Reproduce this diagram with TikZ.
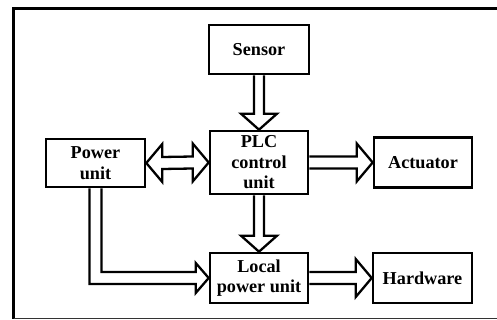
\documentclass[tikz,border=0pt]{standalone}
\usepackage{fontspec}
\setmainfont{Liberation Serif}
\usetikzlibrary{calc}
\tikzset{
  blk/.style={draw, line width=2.6pt, inner sep=0pt, align=center,
    font=\bfseries\fontsize{18.2}{20.5}\selectfont},
  arr/.style={draw, line width=2.3pt, line join=miter, miter limit=10},
  frame/.style={line width=2.8pt}
}
\begin{document}
\begin{tikzpicture}[x=1pt,y=-1pt]
\useasboundingbox (0,0) rectangle (497,320);
\draw[frame] (497,8.5) -- (13.5,8.5) -- (13.5,318.5);
\draw[line width=1.6pt, black!80] (13.5,318.5) -- (497,318.5);

\node[blk, minimum width=100pt, minimum height=49pt] (sensor) at (259,49.5) {Sensor};
\node[blk, minimum width=98pt, minimum height=63pt] (plc) at (259,162.5) {PLC\\control\\unit};
\node[blk, minimum width=99pt, minimum height=48pt] (power) at (95.5,163) {Power\\unit};
\node[blk, minimum width=98pt, minimum height=50pt] (act) at (423,162.5) {Actuator};
\node[blk, minimum width=98pt, minimum height=50pt] (local) at (259,278) {Local\\power unit};
\node[blk, minimum width=99pt, minimum height=50pt] (hw) at (422.5,278) {Hardware};

% Sensor -> PLC
\draw[arr] ($(sensor.south)+(-5,0)$) -- ($(plc.north)+(-5,-16)$) -- ($(plc.north)+(-18,-16)$)
  -- (plc.north) -- ($(plc.north)+(18,-16)$) -- ($(plc.north)+(5,-16)$) -- ($(sensor.south)+(5,0)$);
% PLC -> Local
\draw[arr] ($(plc.south)+(-5,0)$) -- ($(local.north)+(-5,-16)$) -- ($(local.north)+(-18,-16)$)
  -- (local.north) -- ($(local.north)+(18,-16)$) -- ($(local.north)+(5,-16)$) -- ($(plc.south)+(5,0)$);
% PLC -> Actuator
\draw[arr] ($(plc.east)+(0,-6)$) -- ($(act.west)+(-16,-6)$) -- ($(act.west)+(-16,-19)$)
  -- (act.west) -- ($(act.west)+(-16,19)$) -- ($(act.west)+(-16,6)$) -- ($(plc.east)+(0,6)$);
% Local -> Hardware
\draw[arr] ($(local.east)+(0,-6)$) -- ($(hw.west)+(-16,-6)$) -- ($(hw.west)+(-16,-19)$)
  -- (hw.west) -- ($(hw.west)+(-16,19)$) -- ($(hw.west)+(-16,6)$) -- ($(local.east)+(0,6)$);
% Power <-> PLC
\draw[arr] (power.east) -- ($(power.east)+(16,-19)$) -- ($(power.east)+(16,-6)$)
  -- ($(plc.west)+(-16,-6)$) -- ($(plc.west)+(-16,-19)$) -- (plc.west)
  -- ($(plc.west)+(-16,19)$) -- ($(plc.west)+(-16,6)$) -- ($(power.east)+(16,6)$)
  -- ($(power.east)+(16,19)$) -- cycle;
% Power -> Local (L-shaped)
\draw[arr] ($(power.south)+(-6,0)$) -- ($(power.south |- local.west)+(-6,6)$)
  -- ($(local.west)+(-13,6)$) -- ($(local.west)+(-13,15)$) -- (local.west)
  -- ($(local.west)+(-13,-15)$) -- ($(local.west)+(-13,-6)$)
  -- ($(power.south |- local.west)+(6,-6)$) -- ($(power.south)+(6,0)$);
\end{tikzpicture}
\end{document}
